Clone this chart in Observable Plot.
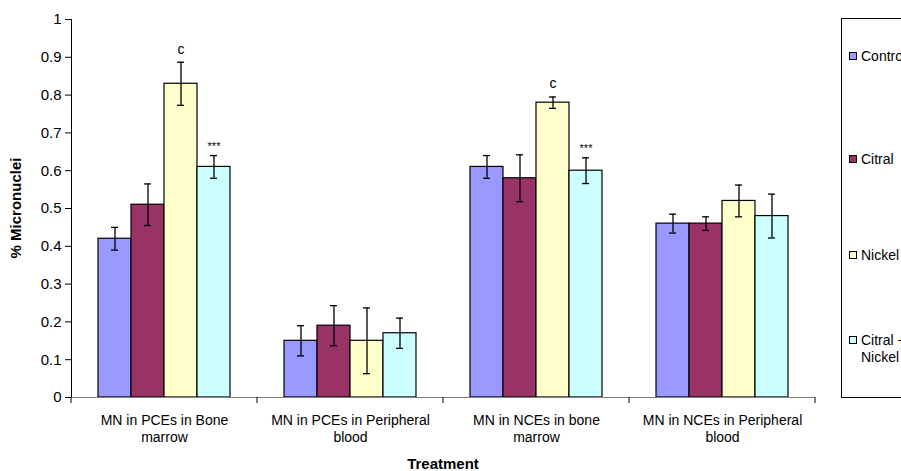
<!DOCTYPE html>
<html><head><meta charset="utf-8">
<script src="https://cdn.jsdelivr.net/npm/d3@7"></script>
<script src="https://cdn.jsdelivr.net/npm/@observablehq/plot@0.6"></script>
<style>
body{margin:0;background:#fff;overflow:hidden}
svg{font-family:"Liberation Sans",Arial,sans-serif}
</style>
</head><body><div id="chart"></div>
<script>
const categories = ["MN in PCEs in Bone marrow", "MN in PCEs in Peripheral blood", "MN in NCEs in bone marrow", "MN in NCEs in Peripheral blood"];
const categoryLabels = ["MN in PCEs in Bone\nmarrow", "MN in PCEs in Peripheral\nblood", "MN in NCEs in bone\nmarrow", "MN in NCEs in Peripheral\nblood"];
const series = ["Control", "Citral", "Nickel", "Citral + Nickel"];
const legendLabels = ["Control", "Citral", "Nickel", "Citral +\nNickel"];
const colors = ["#9999FF", "#993366", "#FFFFCC", "#CCFFFF"];
const controlValues = [0.42, 0.15, 0.61, 0.46];
const citralValues  = [0.51, 0.19, 0.58, 0.46];
const nickelValues  = [0.83, 0.15, 0.78, 0.52];
const comboValues   = [0.61, 0.17, 0.60, 0.48];
const controlErr = [0.03, 0.04, 0.03, 0.025];
const citralErr  = [0.055, 0.053, 0.062, 0.018];
const nickelErr  = [0.057, 0.087, 0.015, 0.042];
const comboErr   = [0.03, 0.04, 0.034, 0.058];
const yTicks = [0, 0.1, 0.2, 0.3, 0.4, 0.5, 0.6, 0.7, 0.8, 0.9, 1];
const annotations = [
  {category: categories[0], series: "Nickel", text: "c"},
  {category: categories[0], series: "Citral + Nickel", text: "***"},
  {category: categories[2], series: "Nickel", text: "c"},
  {category: categories[2], series: "Citral + Nickel", text: "***"}
];

const valueSets = [controlValues, citralValues, nickelValues, comboValues];
const errSets = [controlErr, citralErr, nickelErr, comboErr];
const rows = [];
categories.forEach((c, ci) => series.forEach((s, si) => {
  const v = valueSets[si][ci], e = errSets[si][ci];
  rows.push({category: c, series: s, value: v, lo: v - e, hi: v + e});
}));
const annRows = annotations.map(a => {
  const r = rows.find(r => r.category === a.category && r.series === a.series);
  return {...a, hi: r.hi};
});

const plot = Plot.plot({
  width: 901, height: 471,
  marginLeft: 70, marginRight: 86, marginTop: 19, marginBottom: 74,
  style: {fontSize: "15px", fontFamily: "'Liberation Sans', Arial, sans-serif", background: "#fff"},
  fx: {domain: categories, padding: 0, axis: null, label: null},
  x: {domain: series, paddingInner: 0, paddingOuter: 0.76, axis: null},
  y: {domain: [0, 1], ticks: yTicks, tickFormat: d => String(d), tickSize: 6, tickPadding: 4, label: null, line: true},
  color: {domain: series, range: colors},
  marks: [
    Plot.barY(rows, {fx: "category", x: "series", y: "value", fill: "series", stroke: "#000", strokeWidth: 1.2}),
    Plot.ruleY([0], {stroke: "#808080", strokeWidth: 1.2}),
    Plot.ruleX(rows, {fx: "category", x: "series", y1: "lo", y2: "hi", stroke: "#000", strokeWidth: 1.3}),
    Plot.tickY(rows, {fx: "category", x: "series", y: "hi", insetLeft: 13, insetRight: 13, stroke: "#000", strokeWidth: 1.3}),
    Plot.tickY(rows, {fx: "category", x: "series", y: "lo", insetLeft: 13, insetRight: 13, stroke: "#000", strokeWidth: 1.3}),
    Plot.text(annRows.filter(d => d.text === "c"), {fx: "category", x: "series", y: "hi", text: "text", dy: -13, fontSize: 14}),
    Plot.text(annRows.filter(d => d.text !== "c"), {fx: "category", x: "series", y: "hi", text: "text", dy: -9, fontSize: 11}),
    Plot.text(categoryLabels, {fx: (d, i) => categories[i], text: d => d, frameAnchor: "bottom", lineAnchor: "top", dy: 15, fontSize: 14, lineHeight: 1.25})
  ]
});

const svg = d3.select(plot);
const fx = plot.scale("fx"), y = plot.scale("y");
const y0 = y.apply(0);
const bounds = categories.map(c => fx.apply(c));
bounds.push(fx.apply(categories[categories.length - 1]) + fx.bandwidth);
svg.append("g").attr("stroke", "#000").selectAll("line").data(bounds).join("line")
  .attr("x1", d => d).attr("x2", d => d).attr("y1", y0).attr("y2", y0 + 6);

// axis titles
svg.append("text").attr("transform", `translate(21,${(y.apply(0) + y.apply(1)) / 2}) rotate(-90)`)
  .attr("text-anchor", "middle").attr("font-weight", "bold").attr("font-size", 15).text("% Micronuclei");
svg.append("text").attr("x", (bounds[0] + bounds[bounds.length - 1]) / 2).attr("y", 469)
  .attr("text-anchor", "middle").attr("font-weight", "bold").attr("font-size", 15).text("Treatment");

// legend
const lg = svg.append("g").attr("text-anchor", "start");
lg.append("rect").attr("x", 841.5).attr("y", 18.5).attr("width", 80).attr("height", 379).attr("fill", "#fff").attr("stroke", "#000");
const legendY = [56, 159, 255, 340];
series.forEach((s, i) => {
  lg.append("rect").attr("x", 849.5).attr("y", legendY[i] - 3.5).attr("width", 7).attr("height", 7)
    .attr("fill", colors[i]).attr("stroke", "#000");
  const t = lg.append("text").attr("x", 861).attr("y", legendY[i]).attr("font-size", 14).attr("text-anchor", "start");
  legendLabels[i].split("\n").forEach((line, j) => {
    t.append("tspan").attr("x", 861).attr("dy", j === 0 ? "0.35em" : "1.25em").text(line);
  });
});

document.getElementById("chart").appendChild(plot);
</script>
</body></html>
